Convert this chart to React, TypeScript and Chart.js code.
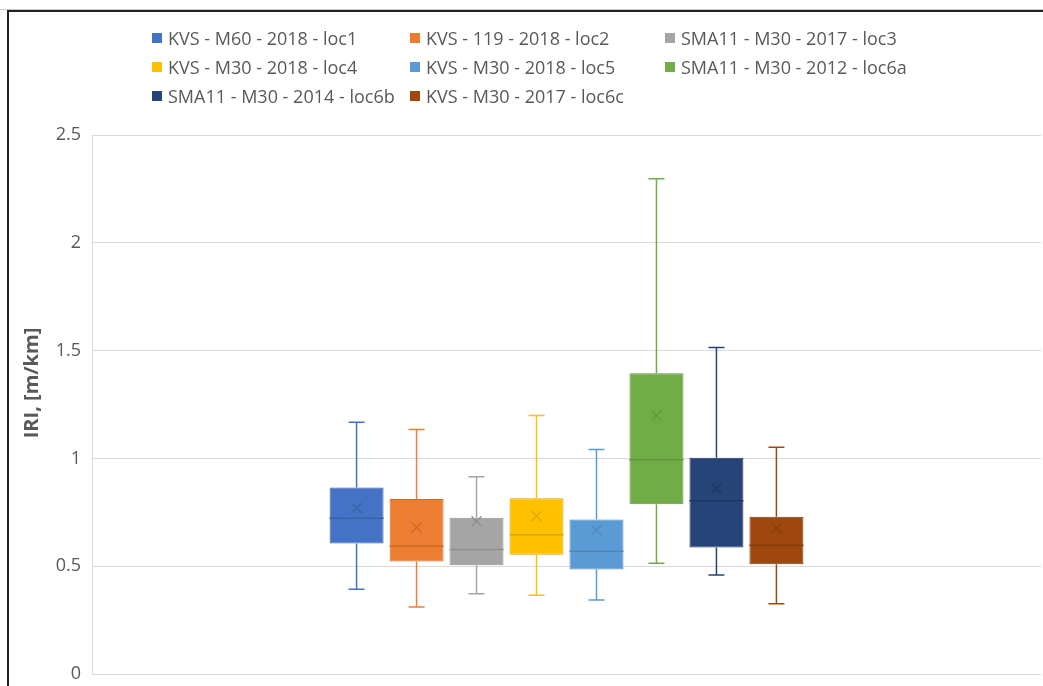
import React, { useEffect, useRef } from "react";
import { Chart, registerables } from "chart.js";

Chart.register(...registerables);

const categories = ["IRI"];
const seriesNames = [
  "KVS - M60 - 2018 - loc1",
  "KVS - 119 - 2018 - loc2",
  "SMA11 - M30 - 2017 - loc3",
  "KVS - M30 - 2018 - loc4",
  "KVS - M30 - 2018 - loc5",
  "SMA11 - M30 - 2012 - loc6a",
  "SMA11 - M30 - 2014 - loc6b",
  "KVS - M30 - 2017 - loc6c",
];
const seriesColors = ["#4472C4", "#ED7D31", "#A5A5A5", "#FFC000", "#5B9BD5", "#70AD47", "#264478", "#9E480E"];
const edgeColors = ["#3A62AA", "#CC6A28", "#8E8E8E", "#DCA500", "#4E86B8", "#60953C", "#1E3763", "#863C0B"];
const minValues = [0.394, 0.311, 0.373, 0.366, 0.344, 0.514, 0.46, 0.327];
const q1Values = [0.606, 0.522, 0.505, 0.554, 0.485, 0.788, 0.587, 0.51];
const medianValues = [0.723, 0.593, 0.578, 0.646, 0.57, 0.994, 0.804, 0.598];
const q3Values = [0.866, 0.812, 0.725, 0.816, 0.717, 1.395, 1.004, 0.73];
const maxValues = [1.168, 1.134, 0.915, 1.2, 1.042, 2.297, 1.515, 1.052];
const meanValues = [0.77, 0.68, 0.709, 0.733, 0.668, 1.199, 0.861, 0.677];
const yTicks = [0, 0.5, 1, 1.5, 2, 2.5];
const yTitle = "IRI, [m/km]";

const FONT = "'Open Sans', 'DejaVu Sans', sans-serif";
const TEXT = "#595959";

const boxExtras = {
  id: "boxExtras",
  afterDatasetsDraw(chart: any) {
    const ctx = chart.ctx;
    const y = chart.scales.y;
    chart.data.datasets.forEach((ds: any, i: number) => {
      const meta = chart.getDatasetMeta(i);
      meta.data.forEach((bar: any) => {
        const { x, width } = bar.getProps(["x", "width"], true);
        const col = seriesColors[i];
        const edge = edgeColors[i];
        const yMin = y.getPixelForValue(minValues[i]);
        const yQ1 = y.getPixelForValue(q1Values[i]);
        const yMed = y.getPixelForValue(medianValues[i]);
        const yQ3 = y.getPixelForValue(q3Values[i]);
        const yMax = y.getPixelForValue(maxValues[i]);
        const yMean = y.getPixelForValue(meanValues[i]);
        const cap = 8;
        ctx.save();
        ctx.strokeStyle = col;
        ctx.lineWidth = 1.5;
        ctx.beginPath();
        ctx.moveTo(x, yQ3);
        ctx.lineTo(x, yMax);
        ctx.moveTo(x - cap, yMax);
        ctx.lineTo(x + cap, yMax);
        ctx.moveTo(x, yQ1);
        ctx.lineTo(x, yMin);
        ctx.moveTo(x - cap, yMin);
        ctx.lineTo(x + cap, yMin);
        ctx.stroke();
        ctx.strokeStyle = edge;
        ctx.lineWidth = 1.5;
        ctx.beginPath();
        ctx.moveTo(x - width / 2, yMed);
        ctx.lineTo(x + width / 2, yMed);
        ctx.stroke();
        const m = 5;
        ctx.lineWidth = 1.3;
        ctx.beginPath();
        ctx.moveTo(x - m, yMean - m);
        ctx.lineTo(x + m, yMean + m);
        ctx.moveTo(x + m, yMean - m);
        ctx.lineTo(x - m, yMean + m);
        ctx.stroke();
        ctx.restore();
      });
    });
  },
};

const titlePlugin = {
  id: "yTitlePlugin",
  afterDraw(chart: any) {
    const ctx = chart.ctx;
    ctx.save();
    ctx.translate(32, 383);
    ctx.rotate(-Math.PI / 2);
    ctx.font = `bold 20px ${FONT}`;
    ctx.fillStyle = TEXT;
    ctx.textAlign = "center";
    ctx.textBaseline = "middle";
    ctx.fillText(yTitle, 0, 0);
    ctx.restore();
  },
};

const legendCols = [152, 410, 665];
const legendRows = [38, 67, 96];

export default function App() {
  const ref = useRef<HTMLCanvasElement | null>(null);
  useEffect(() => {
    if (!ref.current) return;
    const chart = new Chart(ref.current, {
      type: "bar",
      data: {
        labels: categories,
        datasets: seriesNames.map((name, i) => ({
          label: name,
          data: [[q1Values[i], q3Values[i]]],
          backgroundColor: seriesColors[i],
          borderColor: edgeColors[i],
          borderWidth: 1,
          borderSkipped: false,
          categoryPercentage: 0.5056,
          barPercentage: 0.9,
        })),
      } as any,
      options: {
        responsive: false,
        animation: false,
        layout: { padding: { top: 135, bottom: 13, left: 0, right: 2 } },
        plugins: { legend: { display: false }, tooltip: { enabled: false } },
        scales: {
          x: { display: false },
          y: {
            min: 0,
            max: 2.5,
            afterFit(scale: any) {
              scale.width = 92;
            },
            afterBuildTicks(scale: any) {
              scale.ticks = yTicks.map((v) => ({ value: v }));
            },
            grid: { color: "#D9D9D9", lineWidth: 1, drawTicks: false },
            border: { display: true, color: "#D9D9D9" },
            ticks: {
              color: TEXT,
              padding: 11,
              font: { family: FONT, size: 18 },
              callback: (v: any) => String(v),
            },
          },
        },
      } as any,
      plugins: [boxExtras, titlePlugin],
    });
    return () => chart.destroy();
  }, []);

  return (
    <div style={{ position: "fixed", left: 0, top: 0, width: 1043, height: 686, background: "#fff", overflow: "hidden" }}>
      <div style={{ position: "absolute", left: 0, top: 9, width: 1043, height: 1, background: "#c8c8c8" }} />
      <div style={{ position: "absolute", left: 7, top: 10, width: 1036, height: 2, background: "#222" }} />
      <div style={{ position: "absolute", left: 7, top: 10, width: 2, height: 676, background: "#222" }} />
      <canvas ref={ref} width={1043} height={696} style={{ position: "absolute", left: 0, top: 0, width: 1043, height: 696 }} />
      {seriesNames.map((name, i) => {
        const c = i % 3;
        const r = Math.floor(i / 3);
        return (
          <div
            key={name}
            style={{
              position: "absolute",
              left: legendCols[c],
              top: legendRows[r] - 12,
              height: 24,
              display: "flex",
              alignItems: "center",
              fontFamily: FONT,
              fontSize: 18,
              color: TEXT,
              whiteSpace: "nowrap",
            }}
          >
            <span style={{ display: "inline-block", width: 10, height: 10, background: seriesColors[i], marginRight: 6 }} />
            <span>{name}</span>
          </div>
        );
      })}
    </div>
  );
}
